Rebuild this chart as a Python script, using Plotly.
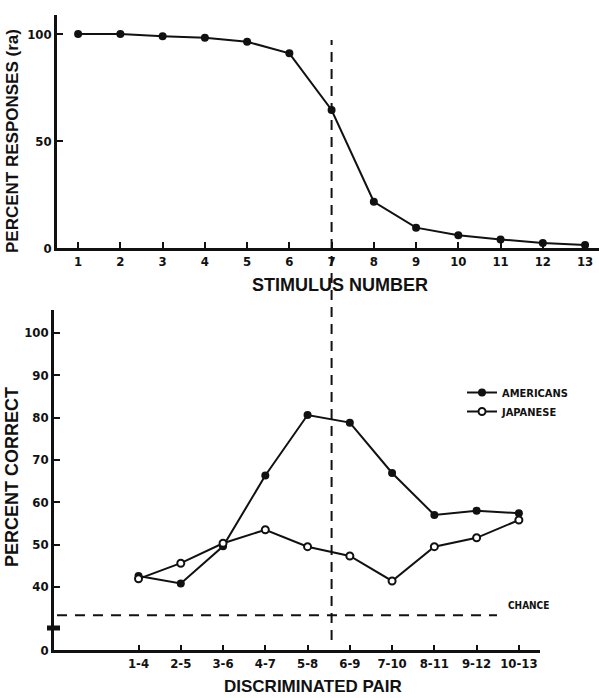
import plotly.graph_objects as go

W, H = 599, 698

# ---- data ----
stimulus = [1, 2, 3, 4, 5, 6, 7, 8, 9, 10, 11, 12, 13]
pct_ra = [100, 100, 99, 98.3, 96.4, 91, 64.5, 21.6, 9.5, 6, 4, 2.3, 1.4]

pair_labels = ["1-4", "2-5", "3-6", "4-7", "5-8", "6-9", "7-10", "8-11", "9-12", "10-13"]
americans = [42.6, 40.8, 49.6, 66.3, 80.6, 78.8, 66.9, 57.0, 58.0, 57.4]
japanese = [41.9, 45.6, 50.3, 53.5, 49.5, 47.3, 41.4, 49.5, 51.6, 55.8]

top_yticks = [0, 50, 100]
bottom_yticks = [40, 50, 60, 70, 80, 90, 100]
chance = 33.3
boundary_stimulus = 7

pair_pos = list(range(1, len(pair_labels) + 1))

INK = "#111111"
FONT = "Liberation Sans Narrow, DejaVu Sans Condensed, Arial Narrow, Liberation Sans, Arial, sans-serif"
TFONT = "Liberation Sans, Arial, DejaVu Sans, sans-serif"


def px(x):
    return x / W


def py(y):
    return 1 - y / H


fig = go.Figure()

fig.add_trace(go.Scatter(
    x=stimulus, y=pct_ra, mode="lines+markers",
    line=dict(color=INK, width=2),
    marker=dict(color=INK, size=8, symbol="circle"),
    xaxis="x", yaxis="y", showlegend=False, cliponaxis=False,
))

fig.add_trace(go.Scatter(
    x=pair_pos, y=americans, mode="lines+markers", name="AMERICANS",
    line=dict(color=INK, width=2),
    marker=dict(color=INK, size=8, symbol="circle"),
    xaxis="x2", yaxis="y2", cliponaxis=False,
))
fig.add_trace(go.Scatter(
    x=pair_pos, y=japanese, mode="lines+markers", name="JAPANESE",
    line=dict(color=INK, width=2),
    marker=dict(color="white", size=7, symbol="circle", line=dict(color=INK, width=2)),
    xaxis="x2", yaxis="y2", cliponaxis=False,
))

tickfont = dict(family=FONT, size=13, color=INK, weight="bold")

fig.update_layout(
    width=W, height=H,
    margin=dict(l=0, r=0, t=0, b=0),
    paper_bgcolor="white", plot_bgcolor="white",
    template="none",
    xaxis=dict(
        domain=[px(57), 1.0], range=[0.5, 13.33], anchor="y",
        tickvals=stimulus, ticktext=[str(s) for s in stimulus],
        showline=True, linecolor=INK, linewidth=2.5, showgrid=False, zeroline=False,
        ticks="inside", ticklen=6, tickwidth=1.5, tickcolor=INK,
        tickfont=tickfont, automargin=False,
    ),
    yaxis=dict(
        domain=[py(248), py(15)], range=[0, 108.9], anchor="x",
        tickvals=top_yticks, ticktext=[str(t) for t in top_yticks],
        showline=True, linecolor=INK, linewidth=2.5, showgrid=False, zeroline=False,
        ticks="inside", ticklen=6, tickwidth=1.5, tickcolor=INK,
        tickfont=tickfont, automargin=False,
    ),
    xaxis2=dict(
        domain=[px(54), px(540)], range=[-1, 10.5], anchor="y2",
        tickvals=pair_pos, ticktext=pair_labels,
        showline=True, linecolor=INK, linewidth=2.5, showgrid=False, zeroline=False,
        ticks="inside", ticklen=5, tickwidth=1.5, tickcolor=INK,
        tickfont=tickfont, automargin=False,
    ),
    yaxis2=dict(
        domain=[py(650), py(310)], range=[25.1, 105.4], anchor="x2",
        tickvals=[25.1] + bottom_yticks, ticktext=["0"] + [str(t) for t in bottom_yticks],
        showline=True, linecolor=INK, linewidth=2.5, showgrid=False, zeroline=False,
        ticks="inside", ticklen=6, tickwidth=1.5, tickcolor=INK,
        tickfont=tickfont, automargin=False,
    ),
    legend=dict(
        x=px(462), y=py(378), xanchor="left", yanchor="top",
        bgcolor="rgba(0,0,0,0)", borderwidth=0,
        font=dict(family=FONT, size=11, color=INK, weight="bold"),
        itemwidth=30, tracegroupgap=2,
    ),
    showlegend=True,
)

# boundary (dashed vertical) across both panels
fig.add_shape(type="line", xref="x", yref="paper",
              x0=boundary_stimulus, x1=boundary_stimulus, y0=py(640), y1=py(40),
              line=dict(color=INK, width=2, dash="10px,7px"))

# chance line
fig.add_shape(type="line", xref="paper", yref="y2",
              x0=px(57), x1=px(497), y0=chance, y1=chance,
              line=dict(color=INK, width=2, dash="10px,8px"))

# axis break marker
fig.add_shape(type="line", xref="paper", yref="paper",
              x0=px(47), x1=px(60), y0=py(628), y1=py(628),
              line=dict(color=INK, width=5))

ann = []
ann.append(dict(text="CHANCE", x=px(506), y=py(605), xref="paper", yref="paper",
                xanchor="left", yanchor="middle", showarrow=False,
                font=dict(family=FONT, size=10, color=INK, weight="bold")))
ann.append(dict(text="STIMULUS NUMBER", x=px(340), y=py(285), xref="paper", yref="paper",
                xanchor="center", yanchor="middle", showarrow=False,
                font=dict(family=TFONT, size=18, color=INK, weight="bold")))
ann.append(dict(text="DISCRIMINATED PAIR", x=px(313), y=py(686), xref="paper", yref="paper",
                xanchor="center", yanchor="middle", showarrow=False,
                font=dict(family=TFONT, size=17, color=INK, weight="bold")))
ann.append(dict(text="PERCENT RESPONSES (ra)", x=px(12), y=py(141), xref="paper", yref="paper",
                xanchor="center", yanchor="middle", showarrow=False, textangle=-90,
                font=dict(family=TFONT, size=17, color=INK, weight="bold")))
ann.append(dict(text="PERCENT CORRECT", x=px(12), y=py(477), xref="paper", yref="paper",
                xanchor="center", yanchor="middle", showarrow=False, textangle=-90,
                font=dict(family=TFONT, size=18, color=INK, weight="bold")))
fig.update_layout(annotations=ann)

fig.write_html("out.html")
